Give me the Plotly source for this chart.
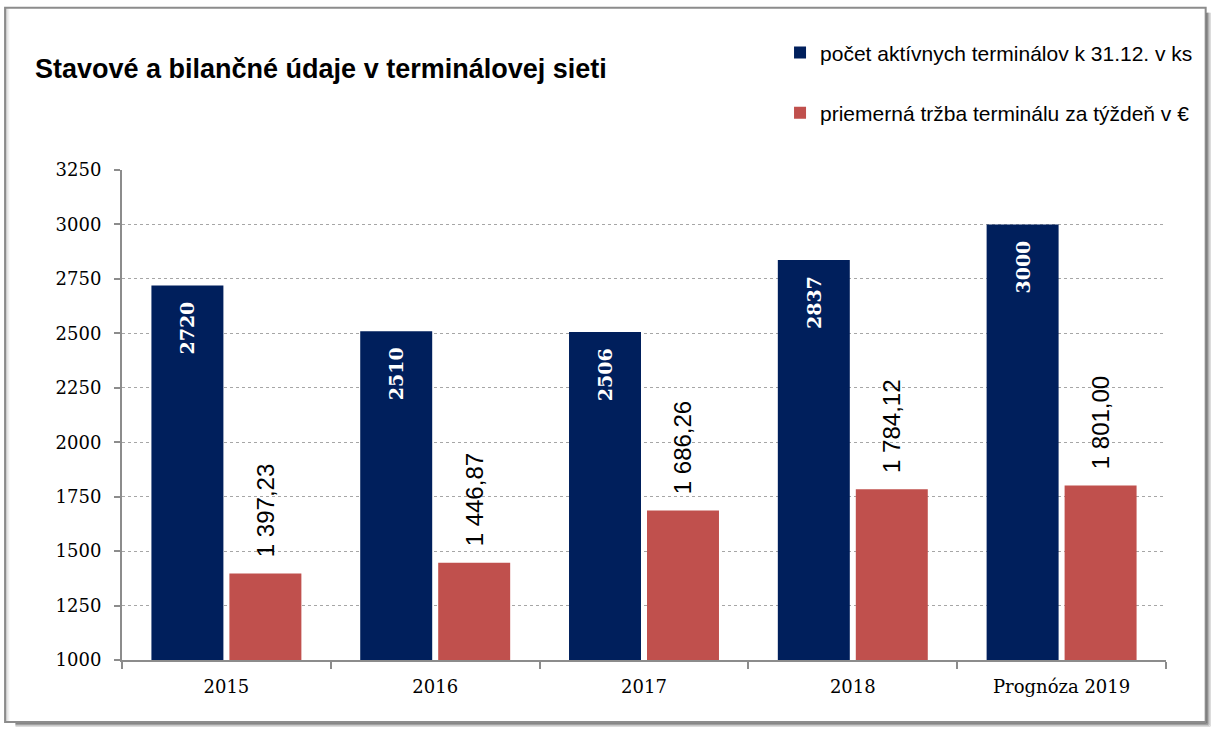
import plotly.graph_objects as go

# data
years = ["2015", "2016", "2017", "2018", "Prognóza 2019"]
terminals = [2720, 2510, 2506, 2837, 3000]
revenue = [1397.23, 1446.87, 1686.26, 1784.12, 1801.00]
terminals_name = "počet aktívnych terminálov k 31.12. v ks"
revenue_name = "priemerná tržba terminálu za týždeň v €"
y_ticks = [1000, 1250, 1500, 1750, 2000, 2250, 2500, 2750, 3000, 3250]


def sk_fmt(v):
    s = f"{v:,.2f}"
    return s.replace(",", " ").replace(".", ",")


serif = "DejaVu Serif, serif"
sans = "Liberation Sans, Arial, sans-serif"
pad = "\u00a0\u00a0"

fig = go.Figure()

fig.add_trace(go.Bar(
    x=years, y=terminals, name=terminals_name,
    marker=dict(color="#001F5C", line=dict(width=0)),
    text=[str(v) + pad for v in terminals],
    textposition="inside", insidetextanchor="end", textangle=-90,
    constraintext="none",
    textfont=dict(family=serif, size=19, color="white", weight="bold"),
    legend="legend",
))

fig.add_trace(go.Bar(
    x=years, y=revenue, name=revenue_name,
    marker=dict(color="#C0504D", line=dict(width=0)),
    text=[pad + sk_fmt(v) for v in revenue],
    textposition="outside", textangle=-90, cliponaxis=False,
    constraintext="none",
    textfont=dict(family=sans, size=24, color="black"),
    legend="legend2",
))

# outer frame with a soft shadow
L, R, T, B = -0.112, 1.038, 1.331, -0.1265
shapes = []
for i, c in enumerate(["#5a5a5a", "#8a8a8a", "#b5b5b5", "#dcdcdc"]):
    dx = 0.0011 * (i + 1)
    dy = 0.0022 * (i + 1)
    shapes.append(dict(type="line", xref="paper", yref="paper",
                       x0=R + dx, x1=R + dx, y0=T - 0.01, y1=B - dy,
                       line=dict(color=c, width=1.5)))
    shapes.append(dict(type="line", xref="paper", yref="paper",
                       x0=L + 0.01, x1=R + dx, y0=B - dy, y1=B - dy,
                       line=dict(color=c, width=1.5)))
for i, c in enumerate(["#c8c8c8", "#e2e2e2", "#f0f0f0"]):
    dx = 0.0011 * (i + 1)
    shapes.append(dict(type="line", xref="paper", yref="paper",
                       x0=L + dx, x1=L + dx, y0=T, y1=B,
                       line=dict(color=c, width=1.5)))
shapes.append(dict(type="rect", xref="paper", yref="paper",
                   x0=L, x1=R, y0=B, y1=T,
                   line=dict(color="#8c8c8c", width=2)))

fig.update_layout(
    width=1214, height=736,
    margin=dict(l=122, r=48, t=170, b=76),
    paper_bgcolor="white", plot_bgcolor="white",
    barmode="group", bargap=0.253, bargroupgap=0.077,
    showlegend=True,
    title=dict(text="<b>Stavové a bilančné údaje v terminálovej sieti</b>",
               xref="container", yref="container",
               x=35 / 1214, xanchor="left", y=1 - 69 / 736, yanchor="middle",
               font=dict(family=sans, size=27, color="black")),
    legend=dict(x=0.6303, y=1.239, xanchor="left", yanchor="middle",
                font=dict(family=sans, size=21, color="black"),
                bgcolor="rgba(0,0,0,0)", itemwidth=30),
    legend2=dict(x=0.6303, y=1.116, xanchor="left", yanchor="middle",
                 font=dict(family=sans, size=21, color="black"),
                 bgcolor="rgba(0,0,0,0)", itemwidth=30),
    shapes=shapes,
)

fig.update_xaxes(
    showline=True, linecolor="#8c8c8c", linewidth=2,
    ticks="outside", tickson="boundaries", ticklen=7, tickcolor="#8c8c8c",
    tickwidth=2, ticklabelstandoff=9,
    tickfont=dict(family=serif, size=18, color="black"),
    showgrid=False,
)
fig.update_yaxes(
    range=[1000, 3250], tickvals=y_ticks,
    showline=True, linecolor="#8c8c8c", linewidth=2,
    ticks="outside", ticklen=6, tickcolor="#8c8c8c", tickwidth=2,
    ticklabelstandoff=9,
    tickfont=dict(family=serif, size=18, color="black"),
    showgrid=True, gridcolor="#a6a6a6", griddash="dot", gridwidth=1,
    zeroline=False,
)

fig.write_html("out.html", config={"displayModeBar": False},
               post_script="document.body.style.margin='0';")
